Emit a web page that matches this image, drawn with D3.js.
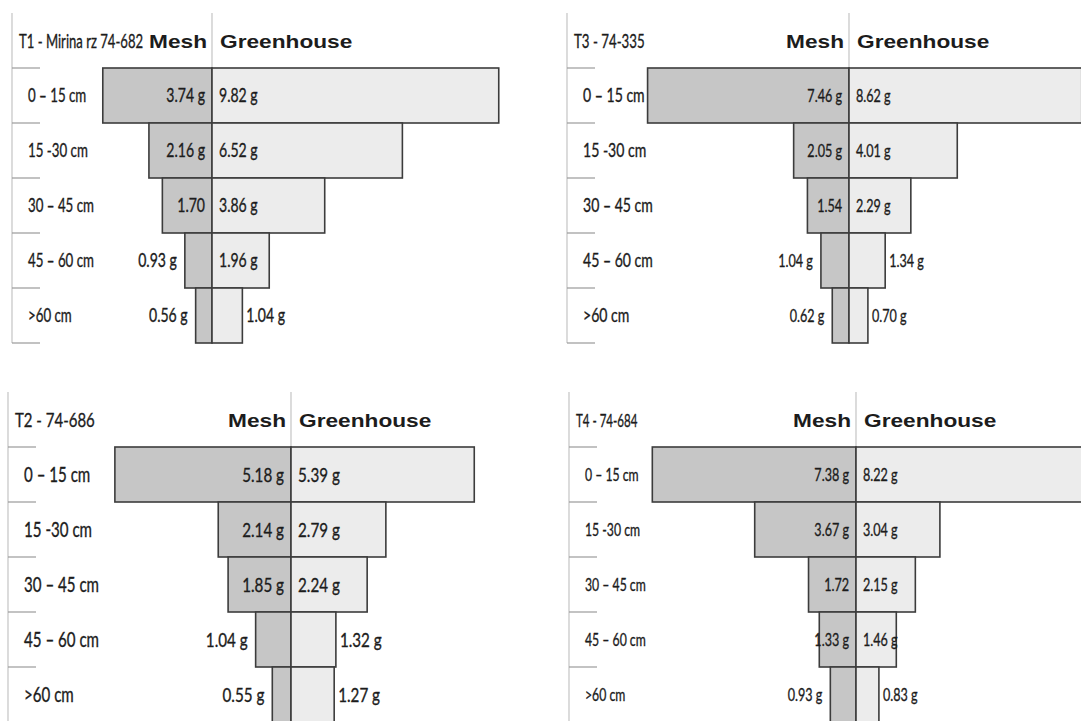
<!DOCTYPE html>
<html>
<head>
<meta charset="utf-8">
<script src="https://cdn.jsdelivr.net/npm/d3@7"></script>
<style>
  html, body { margin: 0; padding: 0; background: #fff; }
  svg { display: block; }
</style>
</head>
<body>
<svg id="chart" width="1081" height="721"></svg>
<script>
// ---------------- DATA ----------------
const depthCategories = ["0 – 15 cm", "15 -30 cm", "30 – 45 cm", "45 – 60 cm", ">60 cm"];
const seriesNames = ["Mesh", "Greenhouse"];

const t1Title = "T1 - Mirina rz 74-682";
const t1Mesh = [3.74, 2.16, 1.70, 0.93, 0.56];
const t1Greenhouse = [9.82, 6.52, 3.86, 1.96, 1.04];
const t1MeshUnit = ["g", "g", "", "g", "g"];
const t1GreenhouseUnit = ["g", "g", "g", "g", "g"];

const t3Title = "T3 - 74-335";
const t3Mesh = [7.46, 2.05, 1.54, 1.04, 0.62];
const t3Greenhouse = [8.62, 4.01, 2.29, 1.34, 0.70];
const t3MeshUnit = ["g", "g", "", "g", "g"];
const t3GreenhouseUnit = ["g", "g", "g", "g", "g"];

const t2Title = "T2 - 74-686";
const t2Mesh = [5.18, 2.14, 1.85, 1.04, 0.55];
const t2Greenhouse = [5.39, 2.79, 2.24, 1.32, 1.27];
const t2MeshUnit = ["g", "g", "g", "g", "g"];
const t2GreenhouseUnit = ["g", "g", "g", "g", "g"];

const t4Title = "T4 - 74-684";
const t4Mesh = [7.38, 3.67, 1.72, 1.33, 0.93];
const t4Greenhouse = [8.22, 3.04, 2.15, 1.46, 0.83];
const t4MeshUnit = ["g", "g", "", "g", "g"];
const t4GreenhouseUnit = ["g", "g", "g", "g", "g"];

// ---------------- LAYOUT / STYLE ----------------
const panels = [
  { title: t1Title, mesh: t1Mesh, gh: t1Greenhouse, mu: t1MeshUnit, gu: t1GreenhouseUnit,
    axisX: 12, centerX: 212, top: 13, half: 292,
    labelSize: 19, labelSx: 0.70, valueSize: 19, valueSx: 0.74, titleSize: 19, titleSx: 0.69 },
  { title: t3Title, mesh: t3Mesh, gh: t3Greenhouse, mu: t3MeshUnit, gu: t3GreenhouseUnit,
    axisX: 567, centerX: 849, top: 13, half: 270,
    labelSize: 19, labelSx: 0.74, valueSize: 18, valueSx: 0.70, titleSize: 19, titleSx: 0.70 },
  { title: t2Title, mesh: t2Mesh, gh: t2Greenhouse, mu: t2MeshUnit, gu: t2GreenhouseUnit,
    axisX: 8, centerX: 291, top: 392, half: 340,
    labelSize: 21, labelSx: 0.72, valueSize: 20, valueSx: 0.76, titleSize: 20, titleSx: 0.75 },
  { title: t4Title, mesh: t4Mesh, gh: t4Greenhouse, mu: t4MeshUnit, gu: t4GreenhouseUnit,
    axisX: 569, centerX: 856, top: 392, half: 276,
    labelSize: 18, labelSx: 0.68, valueSize: 18, valueSx: 0.70, titleSize: 18, titleSx: 0.64 }
];

const BAND = 55;
const BODY_FONT = "Lato, 'Open Sans', sans-serif";
const HEAD_FONT = "'Liberation Sans', Arial, sans-serif";
const HEAD_STRETCH = 1.26;
const HEAD_SIZE = 18;
const MESH_FILL = "#c6c6c6";
const GH_FILL = "#ececec";
const BAR_STROKE = "#3c3c3c";
const TEXT_COLOR = "#1c1c1c";

const svg = d3.select("#chart");

function condText(g, x, y, str, size, anchor, sx, opts = {}) {
  const t = g.append("text")
    .attr("transform", `translate(${x},${y}) scale(${sx},1)`)
    .attr("text-anchor", anchor)
    .attr("font-family", opts.family || BODY_FONT)
    .attr("font-size", size)
    .attr("font-weight", opts.weight || "normal")
    .attr("fill", TEXT_COLOR)
    .attr("stroke", opts.weight ? "none" : TEXT_COLOR)
    .attr("stroke-width", 0.35)
    .text(str);
  return t;
}

panels.forEach(p => {
  const g = svg.append("g");
  const rows = ["header", ...depthCategories];
  const y = d3.scaleBand().domain(rows).range([p.top, p.top + BAND * rows.length]).padding(0);
  const x = d3.scaleLinear().domain([0, 10]).range([0, p.half]);
  const bottom = p.top + BAND * rows.length;

  // left axis line
  g.append("line")
    .attr("x1", p.axisX).attr("x2", p.axisX)
    .attr("y1", p.top).attr("y2", bottom)
    .attr("stroke", "#c4c4c4").attr("stroke-width", 1.2);

  // ticks at band boundaries
  const bounds = depthCategories.map(c => y(c)).concat([bottom]);
  g.selectAll(".tick").data(bounds).join("line")
    .attr("x1", p.axisX).attr("x2", p.axisX + 28)
    .attr("y1", d => d).attr("y2", d => d)
    .attr("stroke", "#9a9a9a").attr("stroke-width", 1.2);

  // center line
  g.append("line")
    .attr("x1", p.centerX).attr("x2", p.centerX)
    .attr("y1", p.top).attr("y2", y(depthCategories[0]))
    .attr("stroke", "#c4c4c4").attr("stroke-width", 1.2);

  // header
  const hy = p.top + 35;
  condText(g, p.axisX + 7, hy, p.title, p.titleSize, "start", p.titleSx);
  condText(g, p.centerX - 5, hy, seriesNames[0], HEAD_SIZE, "end", HEAD_STRETCH, { family: HEAD_FONT, weight: "bold" });
  condText(g, p.centerX + 8, hy, seriesNames[1], HEAD_SIZE, "start", HEAD_STRETCH, { family: HEAD_FONT, weight: "bold" });

  // category labels
  depthCategories.forEach(c => {
    condText(g, p.axisX + 16, y(c) + BAND / 2 + p.labelSize * 0.36, c, p.labelSize, "start", p.labelSx);
  });

  // bars
  g.selectAll(".mesh").data(p.mesh).join("rect")
    .attr("x", d => p.centerX - x(d))
    .attr("y", (d, i) => y(depthCategories[i]))
    .attr("width", d => x(d))
    .attr("height", y.bandwidth())
    .attr("fill", MESH_FILL).attr("stroke", BAR_STROKE).attr("stroke-width", 1.6);
  g.selectAll(".gh").data(p.gh).join("rect")
    .attr("x", p.centerX)
    .attr("y", (d, i) => y(depthCategories[i]))
    .attr("width", d => x(d))
    .attr("height", y.bandwidth())
    .attr("fill", GH_FILL).attr("stroke", BAR_STROKE).attr("stroke-width", 1.6);

  // value labels
  const fmt = d3.format(".2f");
  const sx = p.valueSx;
  p.mesh.forEach((v, i) => {
    const str = fmt(v) + (p.mu[i] ? " " + p.mu[i] : "");
    const cy = y(depthCategories[i]) + BAND / 2 + p.valueSize * 0.36;
    const t = condText(g, p.centerX - 7, cy, str, p.valueSize, "end", sx);
    const w = t.node().getComputedTextLength() * sx;
    const bw = x(v);
    if (bw < w + 2) {
      t.attr("transform", `translate(${p.centerX - bw - 8},${cy}) scale(${sx},1)`);
    }
  });
  p.gh.forEach((v, i) => {
    const str = fmt(v) + (p.gu[i] ? " " + p.gu[i] : "");
    const cy = y(depthCategories[i]) + BAND / 2 + p.valueSize * 0.36;
    const t = condText(g, p.centerX + 7, cy, str, p.valueSize, "start", sx);
    const w = t.node().getComputedTextLength() * sx;
    const bw = x(v);
    if (bw < w + 5) {
      t.attr("transform", `translate(${p.centerX + bw + 4},${cy}) scale(${sx},1)`);
    }
  });
});
</script>
</body>
</html>
